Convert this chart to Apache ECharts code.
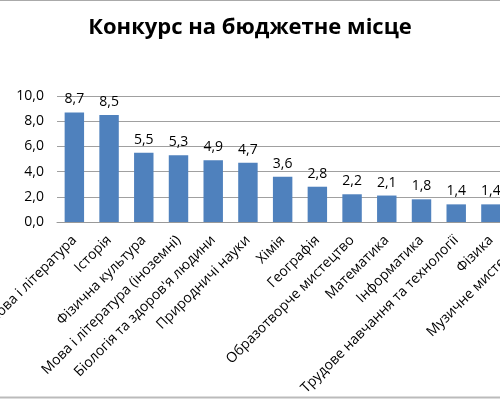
<!DOCTYPE html>
<html>
<head>
<meta charset="utf-8">
<script src="https://cdn.jsdelivr.net/npm/echarts@6/dist/echarts.min.js"></script>
<style>
  html, body { margin: 0; padding: 0; background: #fff; }
  #chart { width: 500px; height: 400px; }
</style>
</head>
<body>
<div id="chart"></div>
<script>
// subjects and competition per budget place
const subjects = [
  'Українська мова і література',
  'Історія',
  'Фізична культура',
  'Мова і література (іноземні)',
  'Біологія та здоров\'я людини',
  'Природничі науки',
  'Хімія',
  'Географія',
  'Образотворче мистецтво',
  'Математика',
  'Інформатика',
  'Трудове навчання та технології',
  'Фізика',
  'Музичне мистецтво'
];
const competition = [8.7, 8.5, 5.5, 5.3, 4.9, 4.7, 3.6, 2.8, 2.2, 2.1, 1.8, 1.4, 1.4, 1.2];
const yTicks = { min: 0, max: 10, interval: 2 };

const fmt = v => v.toFixed(1).replace('.', ',');
const font = '"Open Sans", sans-serif';

const chart = echarts.init(document.getElementById('chart'));
chart.setOption({
  animation: false,
  backgroundColor: '#fff',
  title: {
    text: 'Конкурс на бюджетне місце',
    left: 'center',
    top: 12,
    textStyle: { fontFamily: font, fontSize: 22, fontWeight: 'bold', color: '#000' }
  },
  // grid runs past the right edge: last bar is cut off like in the source
  grid: { left: 57, top: 96, height: 126, width: 486, containLabel: false, outerBoundsMode: 'none' },
  xAxis: {
    type: 'category',
    data: subjects,
    axisLine: { lineStyle: { color: '#999' } },
    axisTick: { show: false },
    axisLabel: {
      interval: 0,
      rotate: 45,
      margin: 16,
      fontFamily: font,
      fontSize: 14,
      color: '#000'
    }
  },
  yAxis: {
    type: 'value',
    min: yTicks.min,
    max: yTicks.max,
    interval: yTicks.interval,
    axisLine: { show: false },
    axisTick: { show: false },
    splitLine: { lineStyle: { color: '#a0a0a0' } },
    axisLabel: {
      margin: 13,
      fontFamily: font,
      fontSize: 14,
      color: '#000',
      formatter: v => fmt(v)
    }
  },
  series: [{
    type: 'bar',
    data: competition,
    barWidth: '56%',
    itemStyle: { color: '#4f81bd' },
    label: {
      show: true,
      position: 'top',
      distance: 6,
      fontFamily: font,
      fontSize: 14,
      color: '#000',
      formatter: p => fmt(p.value)
    }
  }],
  graphic: [
    { type: 'line', shape: { x1: 0, y1: 0.5, x2: 500, y2: 0.5 }, style: { stroke: '#aaa', lineWidth: 1 } },
    { type: 'line', shape: { x1: 0, y1: 397.5, x2: 500, y2: 397.5 }, style: { stroke: '#bbb', lineWidth: 2 } }
  ]
});
</script>
</body>
</html>
